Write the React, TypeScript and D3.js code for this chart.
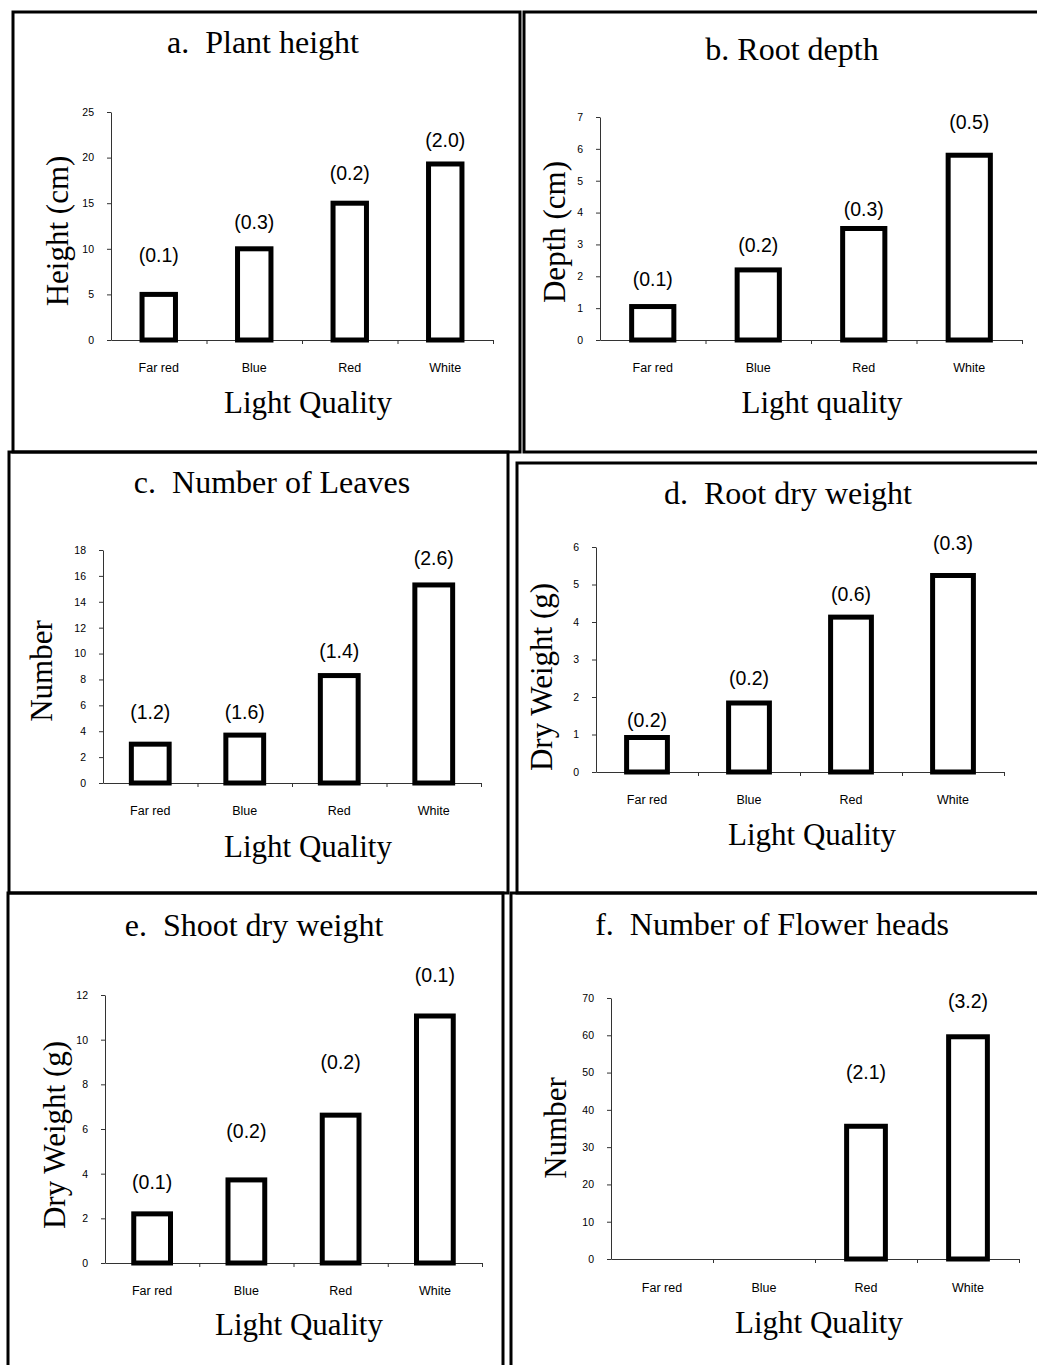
import React, { useEffect, useRef } from "react";
import * as d3 from "d3";

// categories shared by every panel
const lightQuality = ["Far red", "Blue", "Red", "White"];

// a. plant height
const plantHeight = [5, 10, 15, 19.3];
const plantHeightSE = ["(0.1)", "(0.3)", "(0.2)", "(2.0)"];
const plantHeightLabelAt = [9.3, 12.9, 18.3, 21.9];
const plantHeightTicks = [0, 5, 10, 15, 20, 25];

// b. root depth
const rootDepth = [1.05, 2.2, 3.5, 5.8];
const rootDepthSE = ["(0.1)", "(0.2)", "(0.3)", "(0.5)"];
const rootDepthLabelAt = [1.91, 2.98, 4.11, 6.84];
const rootDepthTicks = [0, 1, 2, 3, 4, 5, 6, 7];

// c. number of leaves
const leaves = [3.0, 3.7, 8.3, 15.3];
const leavesSE = ["(1.2)", "(1.6)", "(1.4)", "(2.6)"];
const leavesLabelAt = [5.5, 5.5, 10.2, 17.35];
const leavesTicks = [0, 2, 4, 6, 8, 10, 12, 14, 16, 18];

// d. root dry weight
const rootDry = [0.92, 1.84, 4.13, 5.24];
const rootDrySE = ["(0.2)", "(0.2)", "(0.6)", "(0.3)"];
const rootDryLabelAt = [1.39, 2.5, 4.74, 6.1];
const rootDryTicks = [0, 1, 2, 3, 4, 5, 6];

// e. shoot dry weight
const shootDry = [2.2, 3.72, 6.62, 11.06];
const shootDrySE = ["(0.1)", "(0.2)", "(0.2)", "(0.1)"];
const shootDryLabelAt = [3.63, 5.92, 8.97, 12.9];
const shootDryTicks = [0, 2, 4, 6, 8, 10, 12];

// f. flower heads
const flowerHeads = [0, 0, 35.6, 59.6];
const flowerHeadsSE = [null, null, "(2.1)", "(3.2)"];
const flowerHeadsLabelAt = [null, null, 50, 69.1];
const flowerHeadsTicks = [0, 10, 20, 30, 40, 50, 60, 70];

const serif = "'Liberation Serif', 'Times New Roman', serif";
const sans = "'Liberation Sans', Arial, sans-serif";

const panels = [
  {
    title: "a.  Plant height", yTitle: "Height (cm)", xTitle: "Light Quality",
    values: plantHeight, se: plantHeightSE, labelAt: plantHeightLabelAt, ticks: plantHeightTicks,
    box: [13, 12, 507, 440], x0: 111, x1: 493, yTop: 112, yBottom: 340, pad: 0.65,
    titleAt: [263, 53], xTitleAt: [308, 413], yTitleAt: [68, 231], catY: 372,
  },
  {
    title: "b. Root depth", yTitle: "Depth (cm)", xTitle: "Light quality",
    values: rootDepth, se: rootDepthSE, labelAt: rootDepthLabelAt, ticks: rootDepthTicks,
    box: [524, 12, 530, 440], x0: 600, x1: 1022, yTop: 117, yBottom: 340, pad: 0.6,
    titleAt: [792, 60], xTitleAt: [822, 413], yTitleAt: [565, 232], catY: 372,
  },
  {
    title: "c.  Number of Leaves", yTitle: "Number", xTitle: "Light Quality",
    values: leaves, se: leavesSE, labelAt: leavesLabelAt, ticks: leavesTicks,
    box: [9, 452, 499, 441], x0: 103, x1: 481, yTop: 550, yBottom: 783, pad: 0.6,
    titleAt: [272, 493], xTitleAt: [308, 857], yTitleAt: [52, 671], catY: 815,
  },
  {
    title: "d.  Root dry weight", yTitle: "Dry Weight (g)", xTitle: "Light Quality",
    values: rootDry, se: rootDrySE, labelAt: rootDryLabelAt, ticks: rootDryTicks,
    box: [517, 463, 530, 430], x0: 596, x1: 1004, yTop: 547, yBottom: 772, pad: 0.6,
    titleAt: [788, 504], xTitleAt: [812, 845], yTitleAt: [552, 677], catY: 804,
  },
  {
    title: "e.  Shoot dry weight", yTitle: "Dry Weight (g)", xTitle: "Light Quality",
    values: shootDry, se: shootDrySE, labelAt: shootDryLabelAt, ticks: shootDryTicks,
    box: [8, 893, 495, 480], x0: 105, x1: 482, yTop: 995, yBottom: 1263, pad: 0.61,
    titleAt: [254, 936], xTitleAt: [299, 1335], yTitleAt: [65, 1135], catY: 1295,
  },
  {
    title: "f.  Number of Flower heads", yTitle: "Number", xTitle: "Light Quality",
    values: flowerHeads, se: flowerHeadsSE, labelAt: flowerHeadsLabelAt, ticks: flowerHeadsTicks,
    box: [511, 893, 540, 480], x0: 611, x1: 1019, yTop: 998, yBottom: 1259, pad: 0.62,
    titleAt: [772, 935], xTitleAt: [819, 1333], yTitleAt: [566, 1128], catY: 1292,
  },
];

const App = () => {
  const ref = useRef<SVGSVGElement>(null);

  useEffect(() => {
    document.body.style.margin = "0";
    const svg = d3.select(ref.current);
    svg.selectAll("*").remove();

    panels.forEach((p) => {
      const g = svg.append("g");

      // panel frame
      g.append("rect")
        .attr("x", p.box[0])
        .attr("y", p.box[1])
        .attr("width", p.box[2])
        .attr("height", p.box[3])
        .attr("fill", "none")
        .attr("stroke", "#000")
        .attr("stroke-width", 3);

      const y = d3
        .scaleLinear()
        .domain([0, d3.max(p.ticks) as number])
        .range([p.yBottom, p.yTop]);
      const x = d3
        .scaleBand()
        .domain(lightQuality)
        .range([p.x0, p.x1])
        .paddingInner(p.pad)
        .paddingOuter(p.pad / 2);
      const edges = d3.scaleLinear().domain([0, lightQuality.length]).range([p.x0, p.x1]);

      // y axis
      const yAxis = g
        .append("g")
        .attr("transform", `translate(${p.x0},0)`)
        .call(
          d3
            .axisLeft(y)
            .tickValues(p.ticks)
            .tickFormat(d3.format("d"))
            .tickSize(4)
            .tickSizeOuter(0)
            .tickPadding(13)
        );
      yAxis.select(".domain").attr("stroke", "#333");
      yAxis.selectAll(".tick line").attr("stroke", "#333");
      yAxis
        .selectAll(".tick text")
        .attr("font-family", sans)
        .attr("font-size", 10.5)
        .attr("fill", "#000");

      // x axis with ticks between categories
      const xAxis = g
        .append("g")
        .attr("transform", `translate(0,${p.yBottom})`)
        .call(
          d3
            .axisBottom(edges)
            .tickValues(d3.range(1, lightQuality.length + 1))
            .tickSize(4)
            .tickSizeOuter(0)
            .tickFormat(() => "")
        );
      xAxis.select(".domain").attr("stroke", "#333");
      xAxis.selectAll(".tick line").attr("stroke", "#333");

      g.selectAll(".cat")
        .data(lightQuality)
        .enter()
        .append("text")
        .attr("x", (d) => (x(d) as number) + x.bandwidth() / 2)
        .attr("y", p.catY)
        .attr("text-anchor", "middle")
        .attr("font-family", sans)
        .attr("font-size", 12.5)
        .text((d) => d);

      // bars
      g.selectAll(".bar")
        .data(lightQuality.map((c, i) => ({ c, v: p.values[i] })).filter((d) => d.v > 0))
        .enter()
        .append("rect")
        .attr("x", (d) => x(d.c) as number)
        .attr("y", (d) => y(d.v))
        .attr("width", x.bandwidth())
        .attr("height", (d) => p.yBottom - y(d.v))
        .attr("fill", "#fff")
        .attr("stroke", "#000")
        .attr("stroke-width", 5);

      // standard error labels
      g.selectAll(".se")
        .data(lightQuality.map((c, i) => ({ c, s: p.se[i], at: p.labelAt[i] })).filter((d) => d.s !== null))
        .enter()
        .append("text")
        .attr("x", (d) => (x(d.c) as number) + x.bandwidth() / 2)
        .attr("y", (d) => y(d.at as number))
        .attr("dy", "0.35em")
        .attr("text-anchor", "middle")
        .attr("font-family", sans)
        .attr("font-size", 19.5)
        .text((d) => d.s as string);

      // titles
      g.append("text")
        .attr("x", p.titleAt[0])
        .attr("y", p.titleAt[1])
        .attr("text-anchor", "middle")
        .attr("font-family", serif)
        .attr("font-size", 32)
        .style("white-space", "pre")
        .text(p.title);

      g.append("text")
        .attr("x", p.xTitleAt[0])
        .attr("y", p.xTitleAt[1])
        .attr("text-anchor", "middle")
        .attr("font-family", serif)
        .attr("font-size", 31)
        .text(p.xTitle);

      g.append("text")
        .attr("transform", `translate(${p.yTitleAt[0]},${p.yTitleAt[1]}) rotate(-90)`)
        .attr("text-anchor", "middle")
        .attr("font-family", serif)
        .attr("font-size", 31)
        .text(p.yTitle);
    });
  }, []);

  return (
    <svg
      ref={ref}
      width={1037}
      height={1365}
      style={{ display: "block", background: "#fff" }}
    />
  );
};

export default App;
